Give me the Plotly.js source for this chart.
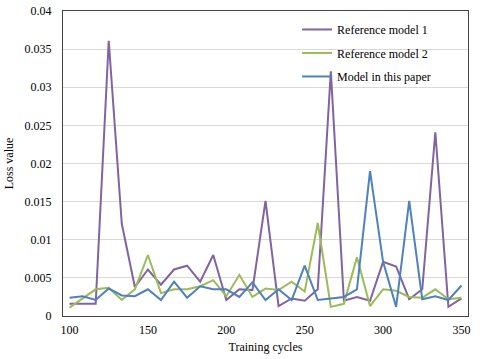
<!doctype html>
<html>
	<head>
		<meta charset="utf-8">
		<script src="https://cdn.plot.ly/plotly-3.0.1.min.js"></script>
		<style>
			html, body { margin: 0; padding: 0; background: #fff; }
			#chart { width: 480px; height: 359px; }
		</style>
	</head>
	<body>
		<div id="chart"></div>
		<script>
			// training cycles (category positions, labelled every 6th)
			let cycles = [
				100, 108.33, 116.67, 125, 133.33, 141.67,
				150, 158.33, 166.67, 175, 183.33, 191.67,
				200, 208.33, 216.67, 225, 233.33, 241.67,
				250, 258.33, 266.67, 275, 283.33, 291.67,
				300, 308.33, 316.67, 325, 333.33, 341.67,
				350
			]
			let refModel1 = [
				0.0016, 0.0016, 0.0016, 0.0361, 0.0121, 0.0038,
				0.0061, 0.0041, 0.0061, 0.0066, 0.0045, 0.0080,
				0.0021, 0.0035, 0.0034, 0.0151, 0.0013, 0.0023,
				0.0020, 0.0035, 0.0321, 0.0020, 0.0025, 0.0020,
				0.0071, 0.0065, 0.0022, 0.0035, 0.0241, 0.0012,
				0.0023
			]
			let refModel2 = [
				0.0011, 0.0023, 0.0035, 0.0037, 0.0021, 0.0035,
				0.0080, 0.0030, 0.0035, 0.0035, 0.0039, 0.0047,
				0.0026, 0.0054, 0.0025, 0.0036, 0.0034, 0.0045,
				0.0032, 0.0122, 0.0012, 0.0016, 0.0077, 0.0013,
				0.0035, 0.0033, 0.0025, 0.0024, 0.0035, 0.0022,
				0.0024
			]
			let thisModel = [
				0.0024, 0.0026, 0.0021, 0.0036, 0.0027, 0.0026,
				0.0035, 0.0021, 0.0045, 0.0024, 0.0039, 0.0035,
				0.0035, 0.0025, 0.0044, 0.0021, 0.0035, 0.0021,
				0.0066, 0.0021, 0.0023, 0.0025, 0.0035, 0.0190,
				0.0071, 0.0012, 0.0151, 0.0022, 0.0026, 0.0021,
				0.0040
			]
			let names = ['Reference model 1', 'Reference model 2', 'Model in this paper']
			let colors = ['#8064a2', '#9bbb59', '#4f81bd']
			let series = [refModel1, refModel2, thisModel]

			let font = { family: 'Times New Roman, Liberation Serif, serif', size: 12, color: '#000' }

			let traces = series.map((y, i) => ({
				x: cycles,
				y: y,
				name: names[i],
				legendgroup: 'g' + i,
				type: 'scatter',
				mode: 'lines',
				line: { color: colors[i], width: 2 }
			}))

			Plotly.newPlot('chart', traces, {
				width: 480,
				height: 359,
				margin: { l: 63, r: 12, t: 11, b: 43 },
				paper_bgcolor: '#fff',
				plot_bgcolor: '#fff',
				font: font,
				showlegend: true,
				legend: {
					x: 0.578, y: 0.987,
					xanchor: 'left', yanchor: 'top',
					bgcolor: 'rgba(0,0,0,0)',
					traceorder: 'grouped',
					tracegroupgap: 4.5,
					font: font
				},
				xaxis: {
					range: [95.83, 354.17],
					tickvals: [100, 150, 200, 250, 300, 350],
					ticks: '',
					ticklabelstandoff: 3,
					showgrid: false,
					zeroline: false,
					showline: true,
					mirror: true,
					linecolor: '#444',
					linewidth: 1,
					tickfont: font,
					title: { text: 'Training cycles', font: font, standoff: 6 }
				},
				yaxis: {
					range: [0, 0.04],
					dtick: 0.005,
					tick0: 0,
					ticks: '',
					ticklabelstandoff: 8,
					showgrid: true,
					gridcolor: '#d9d9d9',
					zeroline: false,
					showline: true,
					mirror: true,
					linecolor: '#444',
					linewidth: 1,
					tickfont: font,
					title: { text: 'Loss value', font: font, standoff: 8 }
				}
			}, { displayModeBar: false, staticPlot: true })
		</script>
	</body>
</html>
